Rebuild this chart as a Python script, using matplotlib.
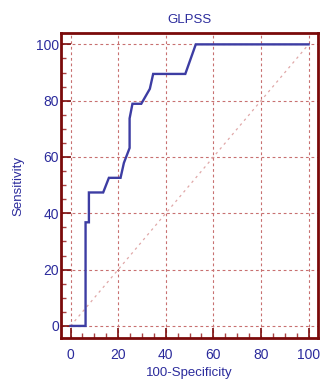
import matplotlib
matplotlib.use('Agg')
import matplotlib.pyplot as plt
import numpy as np

# ROC curve points (100-Specificity, Sensitivity)
fpr = [0, 6.3, 6.3, 7.7, 7.7, 13.7, 16.1, 21.0, 22.4, 24.8, 24.8, 26.0, 29.7, 33.3, 34.7, 48.2, 52.6, 100]
tpr = [0, 0, 36.8, 36.8, 47.4, 47.4, 52.6, 52.6, 57.9, 63.2, 73.7, 78.9, 78.9, 84.2, 89.5, 89.5, 100, 100]
ticks = [0, 20, 40, 60, 80, 100]

plt.rcParams['font.family'] = ['Liberation Sans', 'DejaVu Sans']
blue = '#2b2b9c'
frame = '#7a0a0a'

fig = plt.figure(figsize=(3.3, 3.85), dpi=100)
ax = fig.add_axes([0.185, 0.122, 0.779, 0.792])

ax.plot([0, 100], [0, 100], color='#e0a8a8', lw=0.9, ls=(0, (2, 3)))
ax.plot(fpr, tpr, color='#3d3da3', lw=1.7, solid_joinstyle='miter')

ax.set_xlim(-4, 104)
ax.set_ylim(-4.3, 104)
ax.set_xticks(ticks)
ax.set_yticks(ticks)
ax.set_xticks(np.arange(0, 101, 5), minor=True)
ax.set_yticks(np.arange(0, 101, 5), minor=True)
ax.grid(True, which='major', color='#c87070', ls=(0, (2.5, 2.5)), lw=0.8)

for s in ax.spines.values():
    s.set_color(frame)
    s.set_linewidth(2)

ax.tick_params(which='major', direction='in', length=7, width=1.2, color=frame,
               labelcolor=blue, labelsize=10, top=False, right=False)
ax.tick_params(which='minor', direction='in', length=3.5, width=1, color='#a84040',
               top=False, right=False)
ax.tick_params(axis='y', which='major', pad=1.5)
ax.tick_params(axis='x', which='major', pad=7)

ax.set_title('GLPSS', color=blue, fontsize=9.5, pad=7)
ax.set_xlabel('100-Specificity', color=blue, fontsize=9.5, labelpad=4)
ax.set_ylabel('Sensitivity', color=blue, fontsize=9.5, labelpad=8)

fig.savefig('out.png', dpi=100)
